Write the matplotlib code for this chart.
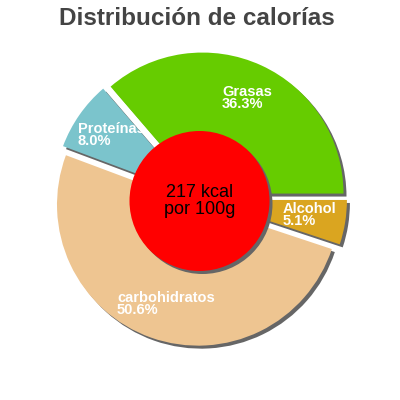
import matplotlib
matplotlib.use("Agg")
import matplotlib.pyplot as plt
from matplotlib.patches import Circle

# datos del grafico
nombres = ["Grasas", "Proteínas", "carbohidratos", "Alcohol"]
porcentajes = [36.3, 8.0, 50.6, 5.1]
colores = ["#66cc00", "#7bc4cc", "#eec591", "#daa520"]
titulo = "Distribución de calorías"
texto_centro = "217 kcal\npor 100g"

# posiciones de las etiquetas en pixeles (esquina sup. izq.), mismo orden
pos_etiquetas = [(222, 85), (78, 122), (117, 291), (283, 202)]

R_PX = 141.0
CX, CY = 200.0, 199.0


def px(x, y):
    # pixel de la imagen -> coordenadas de datos
    return (x - CX) / R_PX, (CY - y) / R_PX


fig = plt.figure(figsize=(4, 4), dpi=100)
ax = fig.add_axes([0, 0, 1, 1])

explode = [0.0425] * len(porcentajes)
sombra = 3 / R_PX

# sombra
ax.pie(porcentajes, colors=["#666666"] * 4, explode=explode, startangle=0,
       counterclock=True, radius=1, center=(sombra, -sombra),
       wedgeprops=dict(linewidth=0), frame=True)
# tarta
ax.pie(porcentajes, colors=colores, explode=explode, startangle=0,
       counterclock=True, radius=1, center=(0, 0),
       wedgeprops=dict(linewidth=0), frame=True)

ax.set_xlim(-CX / R_PX, (400 - CX) / R_PX)
ax.set_ylim(-(400 - CY) / R_PX, CY / R_PX)
ax.set_aspect("equal")
ax.axis("off")

# circulo central
cx, cy = px(199.5, 201)
ax.add_patch(Circle((cx + sombra, cy - sombra), 70 / R_PX, color="#666666", lw=0, zorder=5))
ax.add_patch(Circle((cx, cy), 70 / R_PX, color="#ff0000", lw=0, zorder=6))
ax.text(cx, cy, texto_centro, ha="center", va="center", fontsize=13,
        family="Liberation Sans", color="black", linespacing=1.0, zorder=7)

for nombre, p, (lx, ly) in zip(nombres, porcentajes, pos_etiquetas):
    x, y = px(lx, ly)
    ax.text(x, y, "%s\n%.1f%%" % (nombre, p), ha="left", va="top",
            fontsize=10.5, fontweight="bold", family="Liberation Sans",
            color="white", linespacing=0.82, zorder=8)

fig.text(0.4925, 1 - 25 / 400, titulo, ha="center", va="baseline",
         fontsize=17.5, fontweight="bold", family="Liberation Sans",
         color="#444444")

fig.savefig("out.png", dpi=100)
